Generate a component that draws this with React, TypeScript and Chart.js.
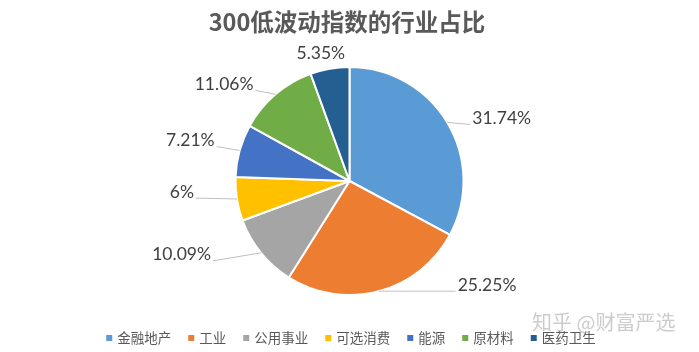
import React, { useEffect, useRef } from "react";
import { Chart, registerables } from "chart.js";

Chart.register(...registerables);

const TITLE = "300低波动指数的行业占比";
const WATERMARK = "知乎 @财富严选";
const categories = ["金融地产", "工业", "公用事业", "可选消费", "能源", "原材料", "医药卫生"];
const shares = [31.74, 25.25, 10.09, 6, 7.21, 11.06, 5.35];
const shareLabels = ["31.74%", "25.25%", "10.09%", "6%", "7.21%", "11.06%", "5.35%"];
const colors = ["#5B9BD5", "#ED7D31", "#A5A5A5", "#FFC000", "#4472C4", "#70AD47", "#255E91"];

// label placement relative to the slice's outer-edge midpoint: [dx, dy, align, leader]
const labelLayout: [number, number, CanvasTextAlign, boolean][] = [
  [25, -4, "left", true],
  [79, -6, "left", true],
  [-50, 2, "right", true],
  [-43, -7, "right", true],
  [-25, -10, "right", true],
  [-22, -10, "right", true],
  [-9, -15, "center", false],
];

const decorPlugin = {
  id: "decor",
  afterDatasetsDraw(chart: any) {
    const ctx: CanvasRenderingContext2D = chart.ctx;
    const meta = chart.getDatasetMeta(0);
    ctx.save();
    // data labels
    meta.data.forEach((arc: any, i: number) => {
      const p = arc.getProps(["x", "y", "startAngle", "endAngle", "outerRadius"], true);
      const mid = (p.startAngle + p.endAngle) / 2;
      const ex = p.x + Math.cos(mid) * p.outerRadius;
      const ey = p.y + Math.sin(mid) * p.outerRadius;
      const [dx, dy, align, leader] = labelLayout[i];
      const tx = ex + dx;
      const ty = ey + dy;
      if (leader) {
        const lx = align === "left" ? tx - 2 : tx + 2;
        const ly = ty + 6;
        ctx.strokeStyle = "#BFBFBF";
        ctx.lineWidth = 1;
        ctx.beginPath();
        ctx.moveTo(ex, ey);
        ctx.lineTo(lx, ly);
        ctx.stroke();
      }
      ctx.fillStyle = "#404040";
      ctx.font = "17.5px Lato";
      ctx.textAlign = align;
      ctx.textBaseline = "middle";
      ctx.fillText(shareLabels[i], tx, ty);
    });

    // title
    ctx.fillStyle = "#595959";
    ctx.font = "bold 23.5px 'Noto Sans CJK SC'";
    ctx.textAlign = "center";
    ctx.textBaseline = "middle";
    ctx.fillText(TITLE, 347, 22);

    // legend
    const labels: string[] = chart.data.labels;
    const bg: string[] = chart.data.datasets[0].backgroundColor;
    ctx.font = "13.5px 'Noto Sans CJK SC'";
    const box = 6;
    const gap = 5;
    const spacing = 17;
    const widths = labels.map((l) => box + gap + ctx.measureText(l).width);
    const total = widths.reduce((a, b) => a + b, 0) + spacing * (labels.length - 1);
    let x = 351 - total / 2;
    const ly = 338;
    labels.forEach((l, i) => {
      ctx.fillStyle = bg[i];
      ctx.fillRect(x, ly - box / 2, box, box);
      ctx.fillStyle = "#595959";
      ctx.textAlign = "left";
      ctx.fillText(l, x + box + gap, ly);
      x += widths[i] + spacing;
    });

    // watermark
    ctx.fillStyle = "rgba(170,170,170,0.6)";
    ctx.font = "20px 'Noto Sans CJK SC'";
    ctx.textAlign = "left";
    ctx.fillText(WATERMARK, 532, 322);
    ctx.restore();
  },
};

export default function App() {
  const ref = useRef<HTMLCanvasElement | null>(null);
  useEffect(() => {
    if (!ref.current) return;
    const chart = new Chart(ref.current, {
      type: "pie",
      data: {
        labels: categories,
        datasets: [
          {
            data: shares,
            backgroundColor: colors,
            borderColor: "#FFFFFF",
            borderWidth: 2,
          },
        ],
      },
      options: {
        responsive: false,
        animation: false,
        layout: { padding: { top: 66, bottom: 56, left: 0, right: 0 } },
        plugins: {
          legend: { display: false },
          title: { display: false },
          tooltip: { enabled: false },
        },
      },
      plugins: [decorPlugin],
    });
    return () => chart.destroy();
  }, []);
  return (
    <div style={{ position: "fixed", left: 0, top: 0, width: 699, height: 352, background: "#fff" }}>
      <canvas ref={ref} width={699} height={352} />
    </div>
  );
}
